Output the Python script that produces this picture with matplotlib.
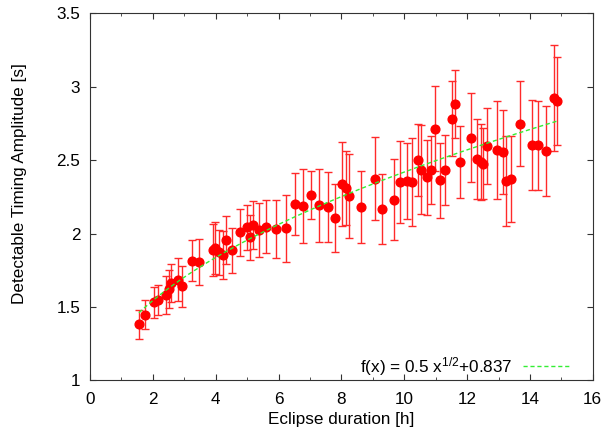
import numpy as np
import matplotlib
matplotlib.use("Agg")
import matplotlib.pyplot as plt
from matplotlib.ticker import MultipleLocator

plt.rcParams['font.family'] = ['Liberation Sans', 'DejaVu Sans']
plt.rcParams['mathtext.fontset'] = 'custom'
plt.rcParams['mathtext.rm'] = 'Liberation Sans'
plt.rcParams['mathtext.it'] = 'Liberation Sans'

# eclipse duration [h]
duration = [1.556, 1.735, 2.045, 2.150, 2.406, 2.524, 2.578, 2.789, 2.939, 3.259,
            3.482, 3.907, 3.984, 4.112, 4.240, 4.335, 4.505, 4.783, 4.994, 5.080,
            5.176, 5.377, 5.613, 5.933, 6.230, 6.518, 6.773, 7.038, 7.284, 7.572,
            7.786, 8.029, 8.137, 8.243, 8.617, 9.073, 9.307, 9.681, 9.863, 10.086,
            10.233, 10.447, 10.543, 10.712, 10.853, 10.981, 11.150, 11.300, 11.534, 11.607,
            11.789, 12.109, 12.310, 12.428, 12.514, 12.642, 12.962, 13.153, 13.236, 13.396,
            13.674, 14.080, 14.272, 14.505, 14.751, 14.866]

# detectable timing amplitude [s]
amplitude = [1.382, 1.448, 1.532, 1.548, 1.582, 1.623, 1.661, 1.686, 1.641, 1.815,
             1.806, 1.888, 1.901, 1.872, 1.854, 1.956, 1.885, 2.007, 2.041, 1.973,
             2.060, 2.024, 2.046, 2.031, 2.035, 2.200, 2.189, 2.262, 2.191, 2.180,
             2.106, 2.336, 2.309, 2.255, 2.180, 2.374, 2.166, 2.230, 2.350, 2.359,
             2.352, 2.501, 2.433, 2.381, 2.431, 2.714, 2.363, 2.433, 2.782, 2.884,
             2.486, 2.653, 2.506, 2.488, 2.476, 2.594, 2.571, 2.554, 2.354, 2.370,
             2.748, 2.599, 2.599, 2.558, 2.923, 2.900]

errors = [0.100, 0.097, 0.104, 0.100, 0.127, 0.132, 0.129, 0.148, 0.141, 0.141,
          0.156, 0.175, 0.175, 0.151, 0.163, 0.163, 0.155, 0.158, 0.151, 0.156,
          0.163, 0.182, 0.182, 0.198, 0.229, 0.209, 0.251, 0.164, 0.246, 0.238,
          0.231, 0.287, 0.253, 0.283, 0.243, 0.282, 0.236, 0.276, 0.279, 0.260,
          0.298, 0.245, 0.302, 0.257, 0.231, 0.292, 0.255, 0.238, 0.255, 0.231,
          0.245, 0.306, 0.272, 0.260, 0.241, 0.258, 0.333, 0.285, 0.306, 0.292,
          0.291, 0.306, 0.304, 0.306, 0.360, 0.301]

fit_a, fit_b = 0.5, 0.837

fig = plt.figure(figsize=(6.05, 4.41), dpi=100)
ax = fig.add_axes([0.1488, 0.1372, 0.831, 0.8333])

ax.errorbar(duration, amplitude, yerr=errors, fmt='o', color='#ff0000',
            ecolor='#ff2a2a', elinewidth=1.0, capsize=3, capthick=1.0,
            markersize=6.3, markeredgecolor='#ff0000', zorder=3)

xs = np.linspace(min(duration), max(duration), 200)
ax.plot(xs, fit_a * np.sqrt(xs) + fit_b, color='#33ee33', linestyle=(0, (3, 2)),
        linewidth=1.0, label=r'f(x) = 0.5 x$^{1/2}$+0.837', zorder=4)

ax.set_xlim(0, 16)
ax.set_ylim(1, 3.5)
ax.set_xticks(np.arange(0, 17, 2))
ax.xaxis.set_minor_locator(MultipleLocator(1))
ax.set_yticks(np.arange(1, 3.51, 0.5))
ax.set_yticklabels(['1', '1.5', '2', '2.5', '3', '3.5'])
ax.tick_params(which='major', direction='in', top=True, right=True, length=4.5,
               labelsize=12.3, color='#333333')
ax.tick_params(which='minor', direction='in', top=True, right=True, length=2.2,
               color='#333333')
ax.tick_params(axis='x', which='major', pad=8)
ax.tick_params(axis='y', which='major', pad=7)
for s in ax.spines.values():
    s.set_color('#333333')

ax.set_xlabel('Eclipse duration [h]', fontsize=12.3, labelpad=4)
ax.set_ylabel('Detectable Timing Amplitude [s]', fontsize=12.3)
ax.yaxis.set_label_coords(-0.125, 0.537)

ax.legend(loc='lower right', bbox_to_anchor=(0.957, 0.007), frameon=False,
          markerfirst=False, fontsize=12.3, handlelength=2.8, handletextpad=0.65,
          borderaxespad=0, borderpad=0)

fig.savefig('out.png', dpi=100)
